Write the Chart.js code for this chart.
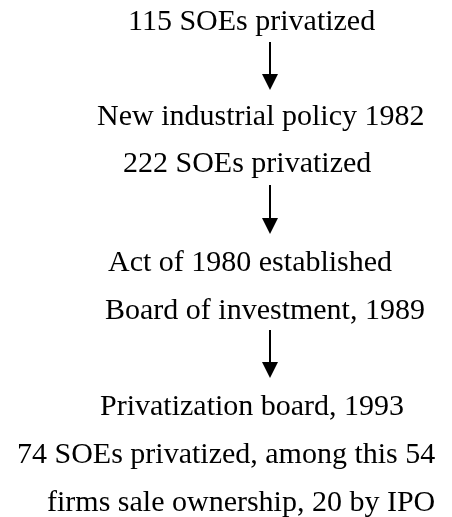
<!DOCTYPE html>
<html>
<head>
<meta charset="utf-8">
<script src="https://cdn.jsdelivr.net/npm/chart.js@4/dist/chart.umd.min.js"></script>
<style>
  html, body { margin: 0; padding: 0; background: #ffffff; }
  #wrap { width: 452px; height: 517px; }
</style>
</head>
<body>
<div id="wrap"><canvas id="c" width="452" height="517"></canvas></div>
<script>
// Flowchart text lines (top to bottom)
const steps = [
  "115 SOEs privatized",
  "New industrial policy 1982",
  "222 SOEs privatized",
  "Act of 1980 established",
  "Board of investment, 1989",
  "Privatization board, 1993",
  "74 SOEs privatized, among this 54",
  "firms sale ownership, 20 by IPO"
];
// Arrows between groups: index of line above -> index of line below
const arrowFrom = [0, 2, 4];
const arrowTo = [1, 3, 5];

// Layout (in chart units = pixels of the 452x517 frame)
const lineLeft = [128, 97, 123, 108, 105, 100, 17, 47];
const lineBase = [30, 125, 172, 271, 319, 415, 463, 511];
const arrowX = 270;
const arrowTop = [42, 185, 330];
const arrowTip = [90, 234, 378];

const flowPlugin = {
  id: 'flow',
  afterDraw(chart) {
    const ctx = chart.ctx;
    const xs = chart.scales.x, ys = chart.scales.y;
    ctx.save();
    ctx.fillStyle = '#000';
    ctx.strokeStyle = '#000';
    ctx.font = '30px "Liberation Serif", "Times New Roman", serif';
    ctx.textAlign = 'left';
    ctx.textBaseline = 'alphabetic';
    steps.forEach((t, i) => {
      ctx.fillText(t, xs.getPixelForValue(lineLeft[i]), ys.getPixelForValue(lineBase[i]));
    });
    for (let k = 0; k < arrowFrom.length; k++) {
      const x = xs.getPixelForValue(arrowX);
      const y0 = ys.getPixelForValue(arrowTop[k]);
      const y1 = ys.getPixelForValue(arrowTip[k]);
      const headH = 16, headW = 8;
      ctx.lineWidth = 2;
      ctx.beginPath();
      ctx.moveTo(x, y0);
      ctx.lineTo(x, y1 - headH + 1);
      ctx.stroke();
      ctx.beginPath();
      ctx.moveTo(x - headW, y1 - headH);
      ctx.lineTo(x + headW, y1 - headH);
      ctx.lineTo(x, y1);
      ctx.closePath();
      ctx.fill();
    }
    ctx.restore();
  }
};

new Chart(document.getElementById('c'), {
  type: 'scatter',
  data: {
    datasets: [{
      data: lineBase.map((b, i) => ({ x: lineLeft[i], y: b })),
      pointRadius: 0,
      showLine: false
    }]
  },
  options: {
    responsive: false,
    animation: false,
    layout: { padding: 0 },
    plugins: { legend: { display: false }, tooltip: { enabled: false } },
    scales: {
      x: { type: 'linear', min: 0, max: 452, display: false },
      y: { type: 'linear', min: 0, max: 517, reverse: true, display: false }
    }
  },
  plugins: [flowPlugin]
});
</script>
</body>
</html>
